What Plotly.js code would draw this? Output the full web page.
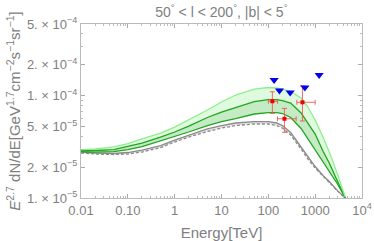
<!DOCTYPE html>
<html><head><meta charset="utf-8">
<script src="https://cdn.plot.ly/plotly-3.0.1.min.js"></script>
<style>html,body{margin:0;padding:0;background:#fff}#chart{width:374px;height:241px}</style>
</head><body><div id="chart"></div>
<script>
var energy = [0.01,0.02,0.05,0.1,0.2,0.5,1,2,5,10,20,50,100,150,200,300,500,700,1000,1500,2000,3000,4400];
var lightUpper = [2.97e-5,3.01e-5,3.15e-5,3.40e-5,3.77e-5,4.31e-5,4.93e-5,5.77e-5,7.23e-5,8.65e-5,1.013e-4,1.159e-4,1.199e-4,1.186e-4,1.159e-4,1.096e-4,9.47e-5,7.73e-5,5.77e-5,3.85e-5,2.81e-5,1.71e-5,1.02e-5];
var darkUpper = [2.91e-5,2.91e-5,2.97e-5,3.18e-5,3.44e-5,3.94e-5,4.41e-5,5.04e-5,6.11e-5,6.91e-5,7.65e-5,8.75e-5,9.15e-5,9.15e-5,8.95e-5,8.46e-5,6.76e-5,5.34e-5,4.21e-5,2.81e-5,2.20e-5,1.46e-5,1.0e-5];
var darkLower = [2.84e-5,2.81e-5,2.84e-5,2.97e-5,3.18e-5,3.60e-5,3.98e-5,4.41e-5,5.10e-5,5.58e-5,5.97e-5,6.61e-5,6.83e-5,6.83e-5,6.68e-5,6.11e-5,4.77e-5,3.77e-5,2.94e-5,2.25e-5,1.83e-5,1.37e-5,1.0e-5];
var graySolid = [2.81e-5,2.75e-5,2.72e-5,2.78e-5,2.94e-5,3.25e-5,3.68e-5,4.12e-5,4.72e-5,5.10e-5,5.40e-5,5.58e-5,5.58e-5,5.40e-5,5.10e-5,4.36e-5,3.15e-5,2.51e-5,2.03e-5,1.64e-5,1.45e-5,1.18e-5,1.0e-5];
var grayDashed = [2.75e-5,2.69e-5,2.66e-5,2.69e-5,2.81e-5,3.11e-5,3.52e-5,3.94e-5,4.46e-5,4.82e-5,5.10e-5,5.28e-5,5.28e-5,5.10e-5,4.82e-5,4.12e-5,3.01e-5,2.40e-5,1.96e-5,1.60e-5,1.42e-5,1.17e-5,1.0e-5];

var dataE = [122, 221, 535];
var dataElo = [100, 157, 406];
var dataEhi = [157, 393, 1000];
var dataFlux = [8.8e-5, 5.94e-5, 8.6e-5];
var dataFluxLo = [6.7e-5, 4.38e-5, 5.65e-5];
var dataFluxHi = [1.09e-4, 7.5e-5, 1.24e-4];

var limitE = [133, 173, 292, 603, 1217];
var limitFlux = [1.42e-4, 1.12e-4, 1.07e-4, 1.2e-4, 1.59e-4];

var xTickVals = [0.01, 0.1, 1, 10, 100, 1000, 10000];
var xTickText = ['0.01', '0.10', '1', '10', '100', '1000', '10<sup>4</sup>'];
var yTickVals = [5e-4, 2e-4, 1e-4, 5e-5, 2e-5, 1e-5];
var yTickText = ['5. \u00d7 10<sup>\u22124</sup>', '2. \u00d7 10<sup>\u22124</sup>', '1. \u00d7 10<sup>\u22124</sup>', '5. \u00d7 10<sup>\u22125</sup>', '2. \u00d7 10<sup>\u22125</sup>', '1. \u00d7 10<sup>\u22125</sup>'];

function arrDiff(a, b) { return a.map(function (v, i) { return v - b[i]; }); }

var traces = [
  {x: energy, y: grayDashed, mode: 'lines', line: {color: '#8a8a8a', width: 1.3, dash: '3px,2px'}, hoverinfo: 'skip'},
  {x: energy, y: graySolid, mode: 'lines', fill: 'tonexty', fillcolor: 'rgba(150,150,150,0.25)', line: {color: '#8a8a8a', width: 1.3}, hoverinfo: 'skip'},
  {x: energy, y: darkLower, mode: 'lines', line: {color: '#1fa51f', width: 1.3}, hoverinfo: 'skip'},
  {x: energy, y: darkUpper, mode: 'lines', fill: 'tonexty', fillcolor: 'rgba(60,190,60,0.3)', line: {color: '#1fa51f', width: 1.3}, hoverinfo: 'skip'},
  {x: energy, y: lightUpper, mode: 'lines', fill: 'tonexty', fillcolor: 'rgba(150,240,150,0.3)', line: {color: '#8fee8f', width: 1.3}, hoverinfo: 'skip'},
  {x: dataE, y: dataFlux, mode: 'markers', marker: {color: '#ee0000', size: 4, symbol: 'square'},
   error_x: {type: 'data', symmetric: false, array: arrDiff(dataEhi, dataE), arrayminus: arrDiff(dataE, dataElo), color: 'rgba(240,80,80,0.85)', thickness: 1, width: 2.5},
   error_y: {type: 'data', symmetric: false, array: arrDiff(dataFluxHi, dataFlux), arrayminus: arrDiff(dataFlux, dataFluxLo), color: 'rgba(240,80,80,0.85)', thickness: 1, width: 2.5}},
  {x: limitE, y: limitFlux, mode: 'markers', marker: {color: '#0000ee', size: 8, symbol: 'triangle-down'}}
];

var fam = 'Liberation Sans, Arial, sans-serif';
var axisFont = {family: fam, size: 13, color: '#808080'};
var layout = {
  width: 374, height: 241,
  margin: {l: 81, r: 12, t: 24, b: 43},
  paper_bgcolor: '#fff', plot_bgcolor: '#fff',
  showlegend: false,
  title: {text: '50<sup>\u00b0</sup> &lt; l &lt; 200<sup>\u00b0</sup>, |b| &lt; 5<sup>\u00b0</sup>', font: {family: fam, size: 14, color: '#808080'}, x: 0.592, xanchor: 'center', y: 0.95, yanchor: 'middle'},
  xaxis: {
    type: 'log', range: [-2, 4], tickmode: 'array', tickvals: xTickVals, ticktext: xTickText,
    tickfont: axisFont, ticks: 'inside', ticklen: 4, tickcolor: '#aaa',
    showline: true, linecolor: '#bbb', mirror: 'ticks', showgrid: false, zeroline: false,
    minor: {ticks: 'inside', ticklen: 2, tickcolor: '#bbb', dtick: 'D1', showgrid: false},
    title: {text: 'Energy[TeV]', font: {family: fam, size: 15, color: '#808080'}, standoff: 11}
  },
  yaxis: {
    type: 'log', range: [-5, Math.log10(5e-4)], tickmode: 'array', tickvals: yTickVals, ticktext: yTickText,
    tickfont: axisFont, ticks: 'inside', ticklen: 4, tickcolor: '#aaa',
    showline: true, linecolor: '#bbb', mirror: 'ticks', showgrid: false, zeroline: false,
    minor: {ticks: 'inside', ticklen: 2, tickcolor: '#bbb', dtick: 'D1', showgrid: false},
    title: {text: '<i>E</i><sup>2.7</sup> dN/dE[GeV<sup>1.7</sup>cm<sup>\u22122</sup>s<sup>\u22121</sup>sr<sup>\u22121</sup>]', font: {family: fam, size: 15, color: '#808080'}, standoff: 2}
  }
};

Plotly.newPlot('chart', traces, layout, {displayModeBar: false, staticPlot: true});
</script>
</body></html>
